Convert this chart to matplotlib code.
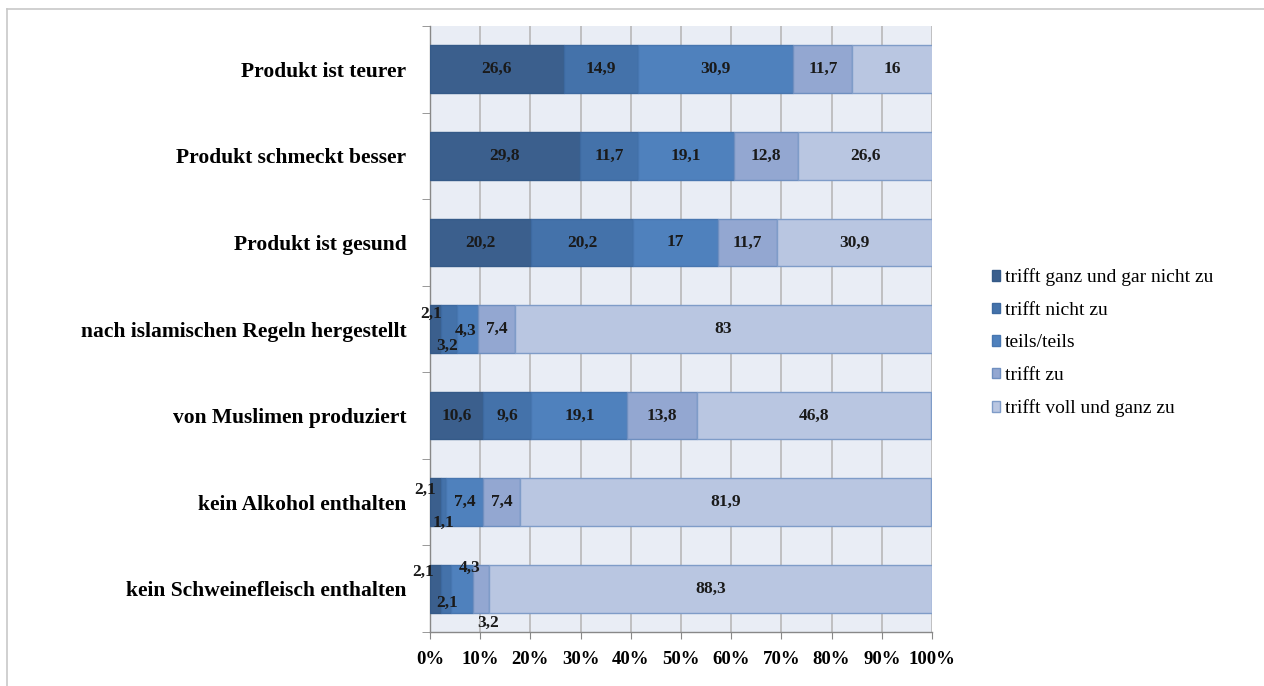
import matplotlib
matplotlib.use("Agg")
import matplotlib.pyplot as plt
import numpy as np

categories = [
    "Produkt ist teurer",
    "Produkt schmeckt besser",
    "Produkt ist gesund",
    "nach islamischen Regeln hergestellt",
    "von Muslimen produziert",
    "kein Alkohol enthalten",
    "kein Schweinefleisch enthalten",
]
series_names = [
    "trifft ganz und gar nicht zu",
    "trifft nicht zu",
    "teils/teils",
    "trifft zu",
    "trifft voll und ganz zu",
]
s_ganz_nicht = [26.6, 29.8, 20.2, 2.1, 10.6, 2.1, 2.1]
s_nicht = [14.9, 11.7, 20.2, 3.2, 9.6, 1.1, 2.1]
s_teils = [30.9, 19.1, 17, 4.3, 19.1, 7.4, 4.3]
s_zu = [11.7, 12.8, 11.7, 7.4, 13.8, 7.4, 3.2]
s_voll = [16, 26.6, 30.9, 83, 46.8, 81.9, 88.3]
x_ticks = [0, 10, 20, 30, 40, 50, 60, 70, 80, 90, 100]
x_ticklabels = ["0%", "10%", "20%", "30%", "40%", "50%", "60%", "70%", "80%", "90%", "100%"]

series = [s_ganz_nicht, s_nicht, s_teils, s_zu, s_voll]
colors = ["#3b5f8d", "#4472aa", "#4f81bd", "#93a7d1", "#b9c6e1"]
edges = ["#355a88", "#3d69a0", "#4776b0", "#6f8fc0", "#7f9cc8"]

# label offsets (dx in %, dy in category units) for crowded small segments
offsets = {
    (3, 0): (-0.9, -0.17), (3, 1): (-0.3, 0.2), (3, 2): (-0.4, 0.02),
    (5, 0): (-2.0, -0.14), (5, 1): (0.0, 0.24),
    (6, 0): (-2.45, -0.2), (6, 1): (0.2, 0.16), (6, 2): (1.6, -0.24), (6, 3): (1.45, 0.39),
}

plt.rcParams['font.family'] = ['Liberation Serif', 'DejaVu Serif']

fig = plt.figure(figsize=(12.64, 6.86), dpi=100)
ax = fig.add_axes([430/1264, 1 - 632/686, 502/1264, (632 - 26)/686])
ax.set_facecolor("#e9edf5")

y = np.arange(len(categories))
left = np.zeros(len(categories))
handles = []
for si, (vals, c, ec, name) in enumerate(zip(series, colors, edges, series_names)):
    vals = np.array(vals, dtype=float)
    b = ax.barh(y, vals, left=left, height=0.55, color=c, edgecolor=ec, linewidth=1.0,
                label=name, zorder=3)
    handles.append(b)
    for ci, v in enumerate(vals):
        dx, dy = offsets.get((ci, si), (0, 0))
        txt = ("%g" % v).replace(".", ",")
        ax.text(left[ci] + v / 2 + dx, ci + dy, txt, ha="center", va="center",
                fontsize=12.5, fontweight="bold", color="#1a1a1a", zorder=5)
    left += vals

ax.set_xlim(0, 100)
ax.set_ylim(len(categories) - 0.5, -0.5)
ax.set_xticks(x_ticks)
ax.set_xticklabels(x_ticklabels, fontsize=13.5, fontweight="bold")
ax.set_yticks(y)
ax.set_yticklabels(categories, fontsize=15.5, fontweight="bold")
ax.set_yticks(np.arange(-0.5, len(categories) + 0.5, 1), minor=True)
ax.tick_params(axis="y", which="major", length=0, pad=17)
ax.tick_params(axis="y", which="minor", length=6, color="#888888", direction="out")
ax.tick_params(axis="x", length=5, color="#888888", direction="out", pad=9)
ax.grid(axis="x", color="#b8b8b8", linewidth=1.2, zorder=0)
ax.set_axisbelow(True)
for s in ["top", "right"]:
    ax.spines[s].set_visible(False)
for s in ["left", "bottom"]:
    ax.spines[s].set_color("#888888")
    ax.spines[s].set_linewidth(1.0)

leg = fig.legend(handles=handles, labels=series_names, loc="upper left",
                 bbox_to_anchor=(974/1264, 1 - 251/686), frameon=False,
                 prop={"family": ["Liberation Serif"], "size": 14},
                 handlelength=0.45, handleheight=0.45, handletextpad=0.25,
                 labelspacing=0.8)

# outer frame (top and left edges visible)
fig.add_artist(plt.Line2D([7/1264, 1.0], [1 - 9/686, 1 - 9/686], color="#c8c8c8", linewidth=1.2,
                          transform=fig.transFigure))
fig.add_artist(plt.Line2D([7/1264, 7/1264], [0, 1 - 9/686], color="#c8c8c8", linewidth=1.2,
                          transform=fig.transFigure))

fig.savefig("out.png", dpi=100)
